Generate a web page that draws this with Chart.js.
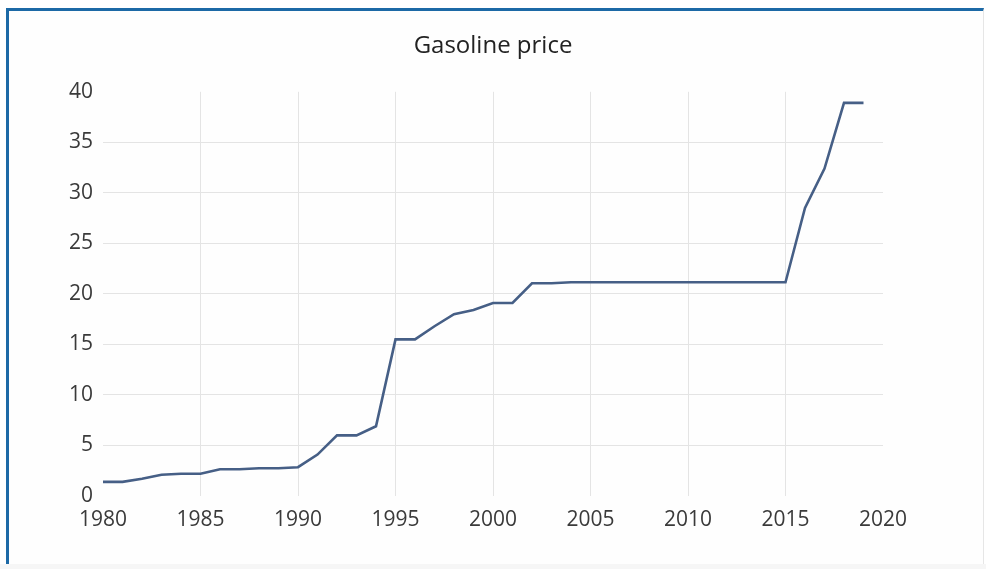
<!DOCTYPE html>
<html>
<head>
<meta charset="utf-8">
<script src="https://cdn.jsdelivr.net/npm/chart.js@4.4.1/dist/chart.umd.min.js"></script>
<style>
  html, body { margin: 0; padding: 0; background: #ffffff; }
  body { width: 986px; height: 569px; position: relative; overflow: hidden; }
  #frame {
    position: absolute; left: 6px; top: 8px; width: 974px; height: 553px;
    border-top: 3px solid #1c69a6; border-left: 3px solid #1c69a6;
    border-right: 1px solid #e6e6e6; background: #fefefe;
  }
  #bottomStrip { position: absolute; left: 0; top: 564px; width: 986px; height: 5px; background: #f6f6f6; }
  #wrap { position: absolute; left: 0; top: 0; width: 986px; height: 569px; }
</style>
</head>
<body>
<div id="frame"></div>
<div id="bottomStrip"></div>
<div id="wrap"><canvas id="chart"></canvas></div>
<script>
// values
const years = [1980, 1981, 1982, 1983, 1984, 1985, 1986, 1987, 1988, 1989,
               1990, 1991, 1992, 1993, 1994, 1995, 1996, 1997, 1998, 1999,
               2000, 2001, 2002, 2003, 2004, 2005, 2006, 2007, 2008, 2009,
               2010, 2011, 2012, 2013, 2014, 2015, 2016, 2017, 2018, 2019];
const prices = [1.4, 1.4, 1.7, 2.1, 2.2, 2.2, 2.65, 2.65, 2.75, 2.75,
                2.85, 4.1, 6.0, 6.0, 6.9, 15.5, 15.5, 16.8, 18.0, 18.4,
                19.1, 19.1, 21.05, 21.05, 21.15, 21.15, 21.15, 21.15, 21.15, 21.15,
                21.15, 21.15, 21.15, 21.15, 21.15, 21.15, 28.5, 32.4, 38.9, 38.9];
const xTicks = [1980, 1985, 1990, 1995, 2000, 2005, 2010, 2015, 2020];
const yTicks = [0, 5, 10, 15, 20, 25, 30, 35, 40];

const textColor = '#3a3a3a';
const gridColor = '#e4e4e4';
const fontFamily = '"Open Sans", "Noto Sans", sans-serif';

const points = years.map((y, i) => ({ x: y, y: prices[i] }));

new Chart(document.getElementById('chart'), {
    type: 'line',
    data: {
        datasets: [{
            label: 'Gasoline price',
            data: points,
            borderColor: '#465f86',
            borderWidth: 2.6,
            pointRadius: 0,
            tension: 0,
            fill: false
        }]
    },
    options: {
        responsive: true,
        maintainAspectRatio: false,
        animation: false,
        layout: { padding: 0 },
        plugins: {
            legend: { display: false },
            tooltip: { enabled: false },
            title: {
                display: true,
                text: 'Gasoline price',
                color: '#222222',
                font: { family: fontFamily, size: 24, weight: 'normal' },
                padding: { top: 32, bottom: 31 }
            }
        },
        scales: {
            x: {
                type: 'linear',
                min: 1980,
                max: 2020,
                afterBuildTicks: function(scale) {
                    scale.ticks = xTicks.map(v => ({ value: v }));
                },
                afterFit: function(scale) {
                    scale.height = 73;
                },
                border: { display: false },
                grid: {
                    drawTicks: false,
                    color: function(ctx) {
                        if (ctx.tick && (ctx.tick.value === 1980 || ctx.tick.value === 2020)) return 'rgba(0,0,0,0)';
                        return gridColor;
                    }
                },
                ticks: {
                    color: textColor,
                    font: { family: fontFamily, size: 21 },
                    padding: 11,
                    maxRotation: 0,
                    callback: v => String(v)
                }
            },
            y: {
                min: 0,
                max: 40,
                afterBuildTicks: function(scale) {
                    scale.ticks = yTicks.map(v => ({ value: v }));
                },
                afterFit: function(scale) {
                    scale.width = 103;
                },
                border: { display: false },
                grid: {
                    drawTicks: false,
                    color: function(ctx) {
                        if (ctx.tick && (ctx.tick.value === 0 || ctx.tick.value === 40)) return 'rgba(0,0,0,0)';
                        return gridColor;
                    }
                },
                ticks: {
                    color: textColor,
                    font: { family: fontFamily, size: 21 },
                    padding: 10
                }
            },
            // empty axis on the right, only to leave the same margin as the reference
            yRight: {
                position: 'right',
                min: 0,
                max: 40,
                afterFit: function(scale) {
                    scale.width = 103;
                },
                border: { display: false },
                grid: { display: false },
                ticks: { display: false }
            }
        }
    }
});
</script>
</body>
</html>
